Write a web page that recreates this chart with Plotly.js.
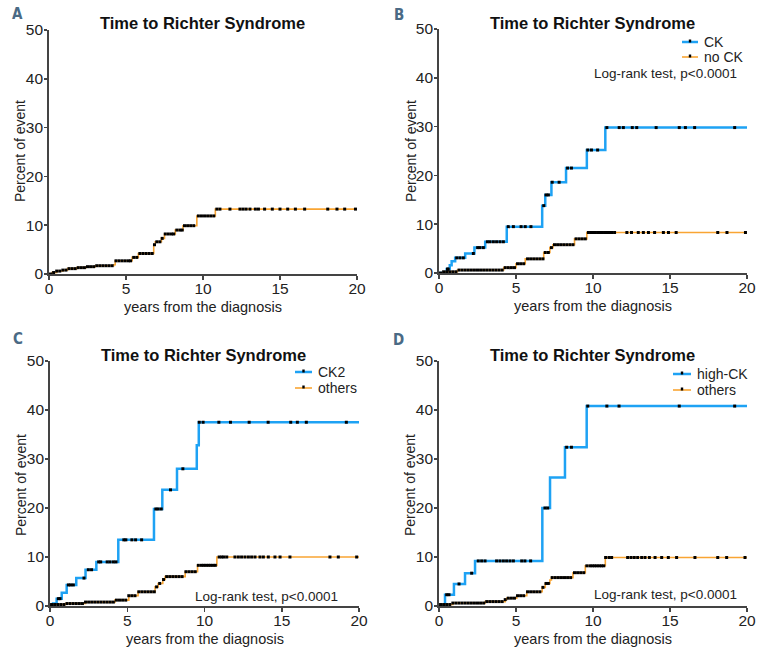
<!DOCTYPE html>
<html>
<head>
<meta charset="utf-8">
<script src="https://cdn.plot.ly/plotly-3.0.1.min.js"></script>
<style>html,body{margin:0;padding:0;background:#fff;}#chart{width:762px;height:650px;}</style>
</head>
<body>
<div id="chart"></div>
<script>
// ---------- DATA ----------
const xTicks = [0, 5, 10, 15, 20];
const yTicks = [0, 10, 20, 30, 40, 50];
const followUpEnd = 20;
const panelTitle = "Time to Richter Syndrome";
const xTitle = "years from the diagnosis";
const yTitle = "Percent of event";
const logRankText = "Log-rank test, p<0.0001";
const panelLetters = ["A", "B", "C", "D"];

// Panel A: all patients
const allTimes = [0, 0.2, 0.5, 0.9, 1.2, 1.8, 2.4, 3.0, 4.2, 4.3, 5.4, 5.8, 6.8, 6.9, 7.3, 7.5, 8.2, 8.7, 9.6, 10.8];
const allVals  = [0, 0.3, 0.6, 0.8, 1.1, 1.3, 1.5, 1.7, 1.9, 2.7, 3.4, 4.2, 6.0, 6.6, 7.3, 8.2, 9.0, 9.9, 11.9, 13.3];
const allCensor = [0.1,0.3,0.5,0.7,0.9,1.1,1.3,1.5,1.7,1.9,2.1,2.3,2.5,2.7,2.9,3.1,3.3,3.5,3.7,3.9,4.1,4.35,4.55,4.75,4.95,5.15,5.3,5.5,5.7,5.9,6.1,6.3,6.5,6.7,6.85,7.0,7.2,7.35,7.55,7.75,7.95,8.1,8.3,8.5,8.65,8.8,9.0,9.2,9.4,9.7,9.9,10.1,10.3,10.5,10.7,10.9,11.1,11.75,12.4,12.6,12.8,13.05,13.4,13.6,14.0,14.5,15.0,15.5,16.0,16.6,18.1,18.7,19.2,19.9];

// Panel B: CK vs no CK
const ckLabel = "CK";
const ckTimes = [0, 0.5, 0.7, 0.82, 1.05, 1.7, 2.3, 3.0, 4.4, 6.7, 6.9, 7.3, 8.25, 9.6, 10.8];
const ckVals  = [0, 0.8, 1.6, 2.4, 3.1, 4.0, 5.2, 6.4, 9.5, 13.8, 16.0, 18.6, 21.5, 25.2, 29.8];
const ckCensor = [0.55,0.6,1.15,1.36,1.58,2.23,2.51,2.66,2.88,3.14,3.31,3.53,3.74,3.96,4.18,4.5,4.83,5.33,5.6,5.97,6.8,6.95,7.1,7.35,7.8,8.35,8.6,9.66,9.9,10.3,10.9,11.7,11.97,12.55,12.84,14.1,15.6,16.0,16.6,19.2];
const noCkLabel = "no CK";
const noCkTimes = [0, 0.3, 1.2, 4.2, 5.0, 5.6, 6.8, 7.2, 7.4, 8.8, 9.6];
const noCkVals  = [0, 0.25, 0.6, 1.1, 1.9, 2.9, 4.2, 5.2, 5.8, 7.0, 8.3];
const noCkCensor = [0.1,0.3,0.5,0.7,0.9,1.1,1.3,1.5,1.7,1.9,2.1,2.3,2.5,2.7,2.9,3.1,3.3,3.5,3.7,3.9,4.1,4.3,4.5,4.7,4.9,5.1,5.3,5.5,5.75,5.95,6.15,6.35,6.55,6.75,6.9,7.1,7.3,7.5,7.7,7.9,8.1,8.3,8.5,8.7,8.9,9.1,9.3,9.5,9.7,9.85,10.0,10.15,10.3,10.45,10.6,10.75,10.9,11.05,11.2,11.4,12.2,12.5,12.94,13.27,13.6,14.0,14.57,14.9,15.4,18.1,18.7,19.9];

// Panel C: CK2 vs others
const ck2Label = "CK2";
const ck2Times = [0, 0.2, 0.43, 0.76, 1.08, 1.7, 2.3, 3.0, 4.42, 6.73, 7.27, 8.22, 9.5, 9.63];
const ck2Vals  = [0, 0.5, 1.5, 2.7, 4.3, 5.7, 7.4, 9.0, 13.5, 19.8, 23.7, 28.0, 32.8, 37.5];
const ck2Censor = [0.54,0.65,1.19,1.34,1.51,2.2,2.48,2.69,3.15,3.28,3.7,3.88,4.1,4.27,4.78,4.91,5.3,5.54,5.93,6.85,7.0,7.2,7.8,8.6,9.66,9.91,10.93,11.68,12.89,14.12,15.58,16.01,16.59,19.18];
const othersCLabel = "others";
const othersCTimes = [0, 0.1, 1.0, 2.3, 4.2, 5.1, 5.7, 6.8, 7.0, 7.3, 7.45, 8.75, 9.55, 10.8];
const othersCVals  = [0, 0.3, 0.5, 0.8, 1.2, 2.1, 2.9, 3.9, 4.6, 5.4, 6.0, 7.0, 8.3, 10.0];
const othersCCensor = [0.1,0.3,0.5,0.7,0.9,1.1,1.3,1.5,1.7,1.9,2.1,2.3,2.5,2.7,2.9,3.1,3.3,3.5,3.7,3.9,4.1,4.3,4.5,4.7,4.9,5.1,5.3,5.5,5.75,5.95,6.15,6.35,6.55,6.75,6.9,7.1,7.35,7.55,7.75,7.95,8.15,8.35,8.55,8.8,9.0,9.2,9.4,9.6,9.8,9.95,10.1,10.25,10.4,10.55,10.7,10.95,11.11,11.25,11.44,11.97,12.19,12.4,12.62,12.84,13.05,13.27,13.59,13.81,14.13,14.56,14.89,15.53,18.12,18.66,19.85];

// Panel D: high-CK vs others
const highCkLabel = "high-CK";
const highCkTimes = [0, 0.39, 0.97, 1.69, 2.34, 6.71, 7.21, 8.18, 9.59];
const highCkVals  = [0, 2.3, 4.5, 6.7, 9.2, 20.0, 26.2, 32.4, 40.8];
const highCkCensor = [0.5,0.65,1.3,2.12,2.55,2.77,2.99,3.74,3.96,4.18,4.39,4.61,4.83,5.37,5.58,5.95,6.88,7.06,8.29,8.6,9.66,10.9,11.69,15.6,19.2];
const othersDLabel = "others";
const othersDTimes = [0, 0.1, 0.9, 3.0, 4.3, 4.4, 5.05, 5.7, 6.7, 6.9, 7.2, 7.3, 8.7, 9.5, 10.8];
const othersDVals  = [0, 0.3, 0.6, 0.9, 1.3, 1.6, 2.1, 2.9, 3.8, 4.6, 5.3, 5.8, 6.8, 8.2, 9.9];
const othersDCensor = [0.1,0.3,0.5,0.7,0.9,1.1,1.3,1.5,1.7,1.9,2.1,2.3,2.5,2.7,2.9,3.1,3.3,3.5,3.7,3.9,4.1,4.3,4.5,4.7,4.9,5.1,5.3,5.5,5.75,5.95,6.15,6.35,6.55,6.75,6.95,7.1,7.35,7.55,7.75,7.95,8.15,8.35,8.55,8.8,9.0,9.2,9.4,9.6,9.8,9.95,10.1,10.25,10.4,10.55,10.7,10.82,11.04,11.21,12.25,12.47,12.68,12.9,13.16,13.38,13.66,14.03,14.46,14.89,15.43,16.62,18.1,18.68,19.87];

// ---------- STYLE ----------
const BLUE = '#1ea2f4';
const ORANGE = '#f9a533';
const FONT = '"Liberation Sans", Arial, Helvetica, sans-serif';
const W = 762, H = 650;
const px = v => v / W;
const py = v => 1 - v / H;

function levelAt(times, vals, t) {
  let v = vals[0];
  for (let i = 0; i < times.length; i++) if (times[i] <= t) v = vals[i];
  return v;
}

const traces = [];
const shapes = [];
const annotations = [];

function addCurve(times, vals, censor, color, width, xa, ya) {
  traces.push({
    type: 'scatter', mode: 'lines', xaxis: xa, yaxis: ya,
    x: times.concat([followUpEnd]), y: vals.concat([vals[vals.length - 1]]),
    line: {shape: 'hv', color: color, width: width},
    showlegend: false, cliponaxis: false, hoverinfo: 'skip'
  });
  traces.push({
    type: 'scatter', mode: 'markers', xaxis: xa, yaxis: ya,
    x: censor, y: censor.map(t => levelAt(times, vals, t)),
    marker: {symbol: 'square', size: 3, color: '#000', line: {width: 0}},
    showlegend: false, cliponaxis: false, hoverinfo: 'skip'
  });
}

// legend entry: short coloured line with a black censor tick, then label
function addLegendItem(label, color, width, lx0, lx1, ly) {
  shapes.push({type: 'line', xref: 'paper', yref: 'paper', x0: px(lx0), x1: px(lx1), y0: py(ly), y1: py(ly),
    line: {color: color, width: width}});
  const cx = (lx0 + lx1) / 2;
  shapes.push({type: 'rect', xref: 'paper', yref: 'paper', x0: px(cx - 1.2), x1: px(cx + 1.2), y0: py(ly + 0.5), y1: py(ly - 2.5),
    line: {width: 0}, fillcolor: '#000'});
  annotations.push({xref: 'paper', yref: 'paper', x: px(lx1 + 4), y: py(ly), xanchor: 'left', yanchor: 'middle',
    text: label, showarrow: false, font: {family: FONT, size: 14, color: '#222'}});
}

addCurve(allTimes, allVals, allCensor, ORANGE, 1.6, 'x', 'y');
addCurve(ckTimes, ckVals, ckCensor, BLUE, 2.5, 'x2', 'y2');
addCurve(noCkTimes, noCkVals, noCkCensor, ORANGE, 1.6, 'x2', 'y2');
addCurve(ck2Times, ck2Vals, ck2Censor, BLUE, 2.5, 'x3', 'y3');
addCurve(othersCTimes, othersCVals, othersCCensor, ORANGE, 1.6, 'x3', 'y3');
addCurve(highCkTimes, highCkVals, highCkCensor, BLUE, 2.5, 'x4', 'y4');
addCurve(othersDTimes, othersDVals, othersDCensor, ORANGE, 1.6, 'x4', 'y4');

addLegendItem(ckLabel, BLUE, 2.5, 682, 698, 42);
addLegendItem(noCkLabel, ORANGE, 1.6, 682, 698, 57);
addLegendItem(ck2Label, BLUE, 2.5, 295, 312, 372);
addLegendItem(othersCLabel, ORANGE, 1.6, 295, 312, 388);
addLegendItem(highCkLabel, BLUE, 2.5, 673, 691, 374);
addLegendItem(othersDLabel, ORANGE, 1.6, 673, 691, 390);

function xAxis(domain, anchor) {
  return {domain: domain, anchor: anchor, range: [0, 20], tickvals: xTicks, ticktext: xTicks.map(String),
    showline: true, linecolor: '#444', linewidth: 1.8, ticks: 'outside', ticklen: 4, tickwidth: 1.5, tickcolor: '#444',
    ticklabelstandoff: -4,
    showgrid: false, zeroline: false, tickfont: {family: FONT, size: 15.5, color: '#222'}, fixedrange: true};
}
function yAxis(domain, anchor) {
  return {domain: domain, anchor: anchor, range: [0, 50], tickvals: yTicks, ticktext: yTicks.map(String),
    showline: true, linecolor: '#444', linewidth: 1.8, ticks: 'outside', ticklen: 3, tickwidth: 1.5, tickcolor: '#444',
    ticklabelstandoff: -2,
    showgrid: false, zeroline: false, tickfont: {family: FONT, size: 15.5, color: '#222'}, fixedrange: true};
}

const panels = [
  {x0: 49, x1: 357, y0: 30, y1: 274, titleX: 202, titleY: 23, letterX: 17, letterY: 14, ytX: 20, ytY: 151, xtY: 307},
  {x0: 439, x1: 747, y0: 29, y1: 273, titleX: 592, titleY: 23, letterX: 399, letterY: 15, ytX: 411, ytY: 151, xtY: 306},
  {x0: 50, x1: 359, y0: 361, y1: 606, titleX: 203, titleY: 355, letterX: 18, letterY: 339, ytX: 21, ytY: 485, xtY: 639},
  {x0: 439, x1: 747, y0: 361, y1: 606, titleX: 592, titleY: 355, letterX: 399, letterY: 340, ytX: 410, ytY: 485, xtY: 639}
];

const layout = {
  width: W, height: H, margin: {l: 0, r: 0, t: 0, b: 0},
  paper_bgcolor: '#fff', plot_bgcolor: 'rgba(0,0,0,0)',
  font: {family: FONT, color: '#222'},
  showlegend: false,
  shapes: shapes,
  annotations: annotations
};

panels.forEach((p, i) => {
  const s = i === 0 ? '' : String(i + 1);
  layout['xaxis' + s] = xAxis([px(p.x0), px(p.x1)], 'y' + s);
  layout['yaxis' + s] = yAxis([py(p.y1), py(p.y0)], 'x' + s);
  annotations.push({xref: 'paper', yref: 'paper', x: px(p.titleX), y: py(p.titleY), xanchor: 'center', yanchor: 'middle',
    text: '<b>' + panelTitle + '</b>', showarrow: false, font: {family: FONT, size: 16.5, color: '#111'}});
  annotations.push({xref: 'paper', yref: 'paper', x: px(p.letterX), y: py(p.letterY), xanchor: 'center', yanchor: 'middle',
    text: '<b>' + panelLetters[i] + '</b>', showarrow: false, font: {family: '"DejaVu Sans Condensed", "DejaVu Sans", sans-serif', size: 15, color: '#4a6a85'}});
  annotations.push({xref: 'paper', yref: 'paper', x: px(p.ytX), y: py(p.ytY), xanchor: 'center', yanchor: 'middle', textangle: -90,
    text: yTitle, showarrow: false, font: {family: FONT, size: 14, color: '#222'}});
  annotations.push({xref: 'paper', yref: 'paper', x: px((p.x0 + p.x1) / 2), y: py(p.xtY), xanchor: 'center', yanchor: 'middle',
    text: xTitle, showarrow: false, font: {family: FONT, size: 14.5, color: '#222'}});
});

annotations.push({xref: 'paper', yref: 'paper', x: px(739), y: py(74), xanchor: 'right', yanchor: 'middle', text: logRankText, showarrow: false, font: {family: FONT, size: 13.5, color: '#222'}});
annotations.push({xref: 'paper', yref: 'paper', x: px(340), y: py(596), xanchor: 'right', yanchor: 'middle', text: logRankText, showarrow: false, font: {family: FONT, size: 13.5, color: '#222'}});
annotations.push({xref: 'paper', yref: 'paper', x: px(739), y: py(594), xanchor: 'right', yanchor: 'middle', text: logRankText, showarrow: false, font: {family: FONT, size: 13.5, color: '#222'}});

Plotly.newPlot('chart', traces, layout, {displayModeBar: false, staticPlot: true});
</script>
</body>
</html>
